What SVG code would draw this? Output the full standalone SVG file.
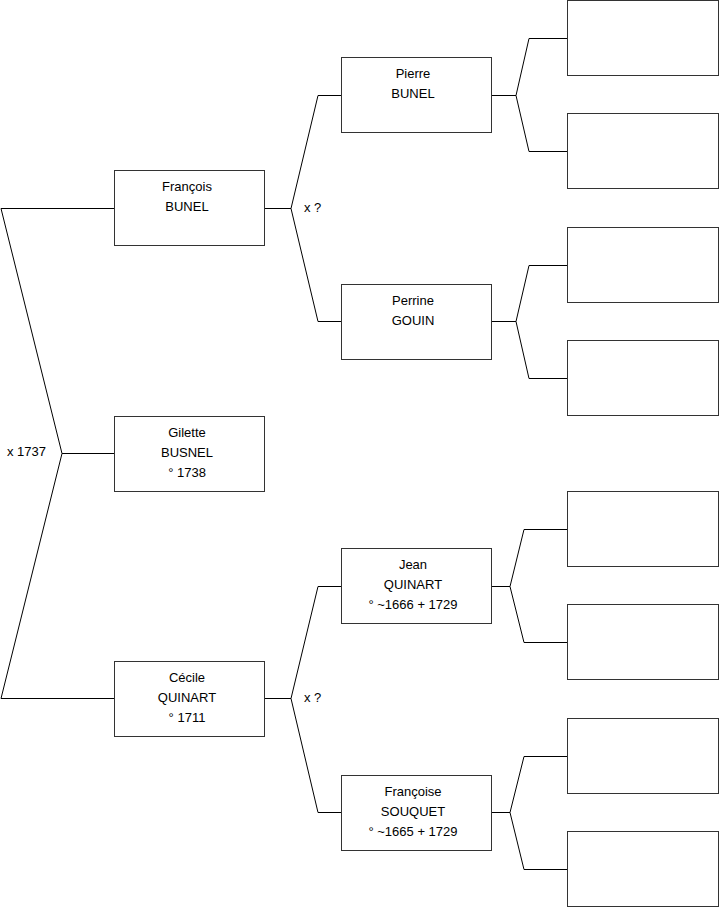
<svg xmlns="http://www.w3.org/2000/svg" width="719" height="908" viewBox="0 0 719 908">
<style>
rect{fill:#fff;stroke:#333;stroke-width:1}
text{font-family:"Liberation Sans",Arial,sans-serif;font-size:13px;fill:#000}
.c{text-anchor:middle}
.ln{fill:none;stroke:#000;stroke-width:1}
</style>
<rect x="0" y="0" width="719" height="908" style="fill:#fff;stroke:none"/>
<g id="connectors" class="ln">
<polyline points="114,208.5 1,208.5 62,453.5 1,698.5 114,698.5"/>
<line x1="62" y1="453.5" x2="114" y2="453.5"/>
<polyline points="341,95.5 318,95.5 291,208.5 318,321.5 341,321.5"/>
<line x1="265" y1="208.5" x2="291" y2="208.5"/>
<polyline points="341,586.5 318,586.5 291,698.5 318,812.5 341,812.5"/>
<line x1="265" y1="698.5" x2="291" y2="698.5"/>
<polyline points="567,38.5 529,38.5 516,95.5 529,151.5 567,151.5"/>
<line x1="492" y1="95.5" x2="516" y2="95.5"/>
<polyline points="567,265.5 529,265.5 516,321.5 529,378.5 567,378.5"/>
<line x1="492" y1="321.5" x2="516" y2="321.5"/>
<polyline points="567,529.5 524,529.5 510,586.5 524,642.5 567,642.5"/>
<line x1="492" y1="586.5" x2="510" y2="586.5"/>
<polyline points="567,756.5 524,756.5 510,812.5 524,869.5 567,869.5"/>
<line x1="492" y1="812.5" x2="510" y2="812.5"/>
</g>
<g id="labels">
<text x="7" y="456">x 1737</text>
<text x="304" y="212">x ?</text>
<text x="304" y="702">x ?</text>
</g>
<g id="francois"><rect x="114.5" y="170.5" width="150" height="75"/><text class="c" x="187" y="191">François</text><text class="c" x="187" y="211">BUNEL</text></g>
<g id="gilette"><rect x="114.5" y="416.5" width="150" height="75"/><text class="c" x="187" y="437">Gilette</text><text class="c" x="187" y="457">BUSNEL</text><text class="c" x="187" y="477">° 1738</text></g>
<g id="cecile"><rect x="114.5" y="661.5" width="150" height="75"/><text class="c" x="187" y="682">Cécile</text><text class="c" x="187" y="702">QUINART</text><text class="c" x="187" y="722">° 1711</text></g>
<g id="pierre"><rect x="341.5" y="57.5" width="150" height="75"/><text class="c" x="413" y="78">Pierre</text><text class="c" x="413" y="98">BUNEL</text></g>
<g id="perrine"><rect x="341.5" y="284.5" width="150" height="75"/><text class="c" x="413" y="305">Perrine</text><text class="c" x="413" y="325">GOUIN</text></g>
<g id="jean"><rect x="341.5" y="548.5" width="150" height="75"/><text class="c" x="413" y="569">Jean</text><text class="c" x="413" y="589">QUINART</text><text class="c" x="413" y="609">° ~1666 + 1729</text></g>
<g id="francoise"><rect x="341.5" y="775.5" width="150" height="75"/><text class="c" x="413" y="796">Françoise</text><text class="c" x="413" y="816">SOUQUET</text><text class="c" x="413" y="836">° ~1665 + 1729</text></g>
<g id="p1"><rect x="567.5" y="0.5" width="151" height="75"/></g>
<g id="p2"><rect x="567.5" y="113.5" width="151" height="75"/></g>
<g id="p3"><rect x="567.5" y="227.5" width="151" height="75"/></g>
<g id="p4"><rect x="567.5" y="340.5" width="151" height="75"/></g>
<g id="p5"><rect x="567.5" y="491.5" width="151" height="75"/></g>
<g id="p6"><rect x="567.5" y="604.5" width="151" height="75"/></g>
<g id="p7"><rect x="567.5" y="718.5" width="151" height="75"/></g>
<g id="p8"><rect x="567.5" y="831.5" width="151" height="75"/></g>
</svg>
